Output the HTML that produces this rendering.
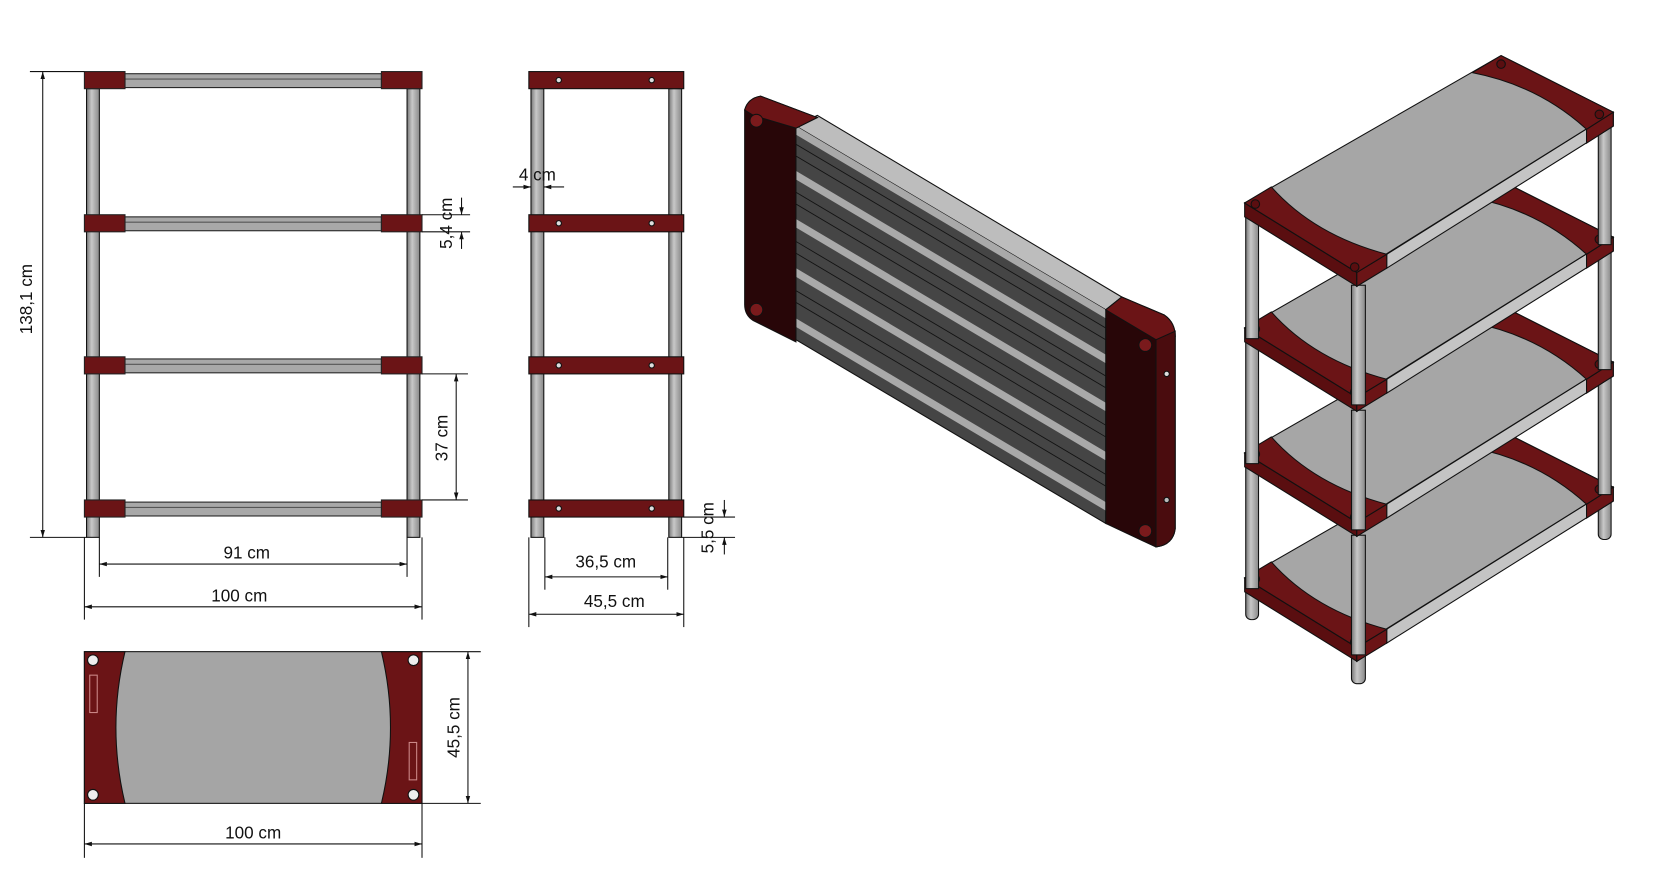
<!DOCTYPE html>
<html><head><meta charset="utf-8"><style>
html,body{margin:0;padding:0;background:#fff;}
svg{display:block;}
text{font-family:"Liberation Sans",sans-serif;font-size:16px;fill:#111;}
</style></head><body>
<svg width="1672" height="876" viewBox="0 0 1565 820" preserveAspectRatio="none" xmlns="http://www.w3.org/2000/svg">
<defs>
<marker id="ar" viewBox="0 0 10 10" refX="10" refY="5" markerWidth="7" markerHeight="7" orient="auto-start-reverse"><path d="M0,2 L10,5 L0,8z" fill="#111"/></marker>
<linearGradient id="post" x1="0" x2="1"><stop offset="0" stop-color="#777"/><stop offset=".4" stop-color="#c8c8c8"/><stop offset="1" stop-color="#888"/></linearGradient>
</defs>
<g stroke="#111" stroke-width="1" fill="none">
<rect x="81" y="83" width="12" height="420" fill="url(#post)"/>
<rect x="381" y="83" width="12" height="420" fill="url(#post)"/>
</g>
<g stroke="#222" stroke-width="1">
<g id="bar">
<rect x="117" y="69" width="240" height="13" fill="#a8a8a8"/>
<line x1="117" y1="74" x2="357" y2="74" stroke="#555"/>
<rect x="79" y="67" width="38" height="16" fill="#6b1416"/>
<rect x="357" y="67" width="38" height="16" fill="#6b1416"/>
</g>
<use href="#bar" y="134"/><use href="#bar" y="267"/><use href="#bar" y="401"/>
</g>
<g stroke="#111" stroke-width="1" fill="none">
<line x1="28" y1="67" x2="79" y2="67"/><line x1="28" y1="503" x2="81" y2="503"/>
<line x1="40" y1="67" x2="40" y2="503" marker-start="url(#ar)" marker-end="url(#ar)"/>
<line x1="93" y1="503" x2="93" y2="540"/><line x1="381" y1="503" x2="381" y2="540"/>
<line x1="93" y1="528" x2="381" y2="528" marker-start="url(#ar)" marker-end="url(#ar)"/>
<line x1="79" y1="503" x2="79" y2="580"/><line x1="395" y1="503" x2="395" y2="580"/>
<line x1="79" y1="568" x2="395" y2="568" marker-start="url(#ar)" marker-end="url(#ar)"/>
<line x1="395" y1="201" x2="440" y2="201"/><line x1="395" y1="217" x2="440" y2="217"/>
<line x1="432" y1="185" x2="432" y2="201" marker-end="url(#ar)"/><line x1="432" y1="233" x2="432" y2="217" marker-end="url(#ar)"/>
<line x1="395" y1="350" x2="438" y2="350"/><line x1="395" y1="468" x2="438" y2="468"/>
<line x1="427" y1="350" x2="427" y2="468" marker-start="url(#ar)" marker-end="url(#ar)"/>
</g>
<text x="30" y="280" text-anchor="middle" transform="rotate(-90 30 280)">138,1 cm</text>
<text x="231" y="523" text-anchor="middle">91 cm</text>
<text x="224" y="563" text-anchor="middle">100 cm</text>
<text x="423" y="209" text-anchor="middle" transform="rotate(-90 423 209)">5,4 cm</text>
<text x="419" y="410" text-anchor="middle" transform="rotate(-90 419 410)">37 cm</text>

<g stroke="#111" stroke-width="1">
<rect x="497" y="83" width="12" height="420" fill="url(#post)"/>
<rect x="626" y="83" width="12" height="420" fill="url(#post)"/>
<g id="sbar">
<rect x="495" y="67" width="145" height="16" fill="#6b1416"/>
<circle cx="523" cy="75" r="2.5" fill="#ddd"/><circle cx="610" cy="75" r="2.5" fill="#ddd"/>
</g>
<use href="#sbar" y="134"/><use href="#sbar" y="267"/><use href="#sbar" y="401"/>
</g>
<g stroke="#111" stroke-width="1" fill="none">
<line x1="480" y1="175" x2="497" y2="175" marker-end="url(#ar)"/><line x1="528" y1="175" x2="509" y2="175" marker-end="url(#ar)"/>
<line x1="510" y1="503" x2="510" y2="552"/><line x1="625" y1="503" x2="625" y2="552"/>
<line x1="510" y1="540" x2="625" y2="540" marker-start="url(#ar)" marker-end="url(#ar)"/>
<line x1="495" y1="503" x2="495" y2="587"/><line x1="640" y1="503" x2="640" y2="587"/>
<line x1="495" y1="575" x2="640" y2="575" marker-start="url(#ar)" marker-end="url(#ar)"/>
<line x1="640" y1="484" x2="688" y2="484"/><line x1="638" y1="503" x2="688" y2="503"/>
<line x1="678" y1="468" x2="678" y2="484" marker-end="url(#ar)"/><line x1="678" y1="519" x2="678" y2="503" marker-end="url(#ar)"/>
</g>
<text x="503" y="169" text-anchor="middle">4 cm</text>
<text x="567" y="531" text-anchor="middle">36,5 cm</text>
<text x="575" y="568" text-anchor="middle">45,5 cm</text>
<text x="668" y="494" text-anchor="middle" transform="rotate(-90 668 494)">5,5 cm</text>

<g stroke="#111" stroke-width="1">
<rect x="79" y="610" width="316" height="142" fill="#a5a5a5"/>
<path d="M79,610 H117 Q100,681 117,752 H79z" fill="#6b1416"/>
<path d="M395,610 H357 Q374,681 357,752 H395z" fill="#6b1416"/>
<circle cx="87" cy="618" r="5" fill="#eee"/><circle cx="87" cy="744" r="5" fill="#eee"/>
<circle cx="387" cy="618" r="5" fill="#eee"/><circle cx="387" cy="744" r="5" fill="#eee"/>
<rect x="84" y="632" width="7" height="35" fill="none" stroke="#c88"/>
<rect x="383" y="695" width="7" height="35" fill="none" stroke="#c88"/>
</g>
<g stroke="#111" stroke-width="1" fill="none">
<line x1="395" y1="610" x2="450" y2="610"/><line x1="395" y1="752" x2="450" y2="752"/>
<line x1="438" y1="610" x2="438" y2="752" marker-start="url(#ar)" marker-end="url(#ar)"/>
<line x1="79" y1="752" x2="79" y2="803"/><line x1="395" y1="752" x2="395" y2="803"/>
<line x1="79" y1="790" x2="395" y2="790" marker-start="url(#ar)" marker-end="url(#ar)"/>
</g>
<text x="430" y="681" text-anchor="middle" transform="rotate(-90 430 681)">45,5 cm</text>
<text x="237" y="785" text-anchor="middle">100 cm</text>

<g stroke="#111" stroke-width="1">
<polygon points="745,118 765,108 1050,278 1035,290 745,120" fill="#bdbdbd"/>
<polygon points="745,118 1035,290 1035,490 745,318" fill="#454545"/>
<g stroke="none" fill="#a9a9a9">
<polygon points="745,118 1035,290 1035,298 745,126"/>
<polygon points="745,160 1035,332 1035,340 745,168"/>
<polygon points="745,205 1035,377 1035,385 745,213"/>
<polygon points="745,251 1035,423 1035,431 745,259"/>
<polygon points="745,298 1035,470 1035,478 745,306"/>
</g>
<g stroke="#111" stroke-width=".8">
<line x1="745" y1="135" x2="1035" y2="307"/><line x1="745" y1="146" x2="1035" y2="318"/>
<line x1="745" y1="180" x2="1035" y2="352"/><line x1="745" y1="191" x2="1035" y2="363"/>
<line x1="745" y1="226" x2="1035" y2="398"/><line x1="745" y1="237" x2="1035" y2="409"/>
<line x1="745" y1="272" x2="1035" y2="444"/><line x1="745" y1="283" x2="1035" y2="455"/>
</g>
<path d="M697,103 Q700,92 712,90 L765,110 L745,120 L745,320 L705,300 Q697,295 697,285z" fill="#280608"/>
<path d="M697,103 Q700,92 712,90 L765,110 L745,120 L705,108z" fill="#6b1416"/>
<circle cx="708" cy="113" r="6" fill="#7a1a1c"/><circle cx="708" cy="290" r="6" fill="#7a1a1c"/>
<path d="M1035,290 L1050,278 L1090,295 Q1100,302 1100,315 L1100,495 Q1098,510 1082,512 L1035,490z" fill="#280608"/>
<path d="M1035,290 L1050,278 L1090,295 Q1100,302 1100,315 L1082,318z" fill="#6b1416"/>
<path d="M1082,318 L1100,310 L1100,495 Q1098,510 1082,512z" fill="#4a0c0e"/>
<circle cx="1072" cy="323" r="6" fill="#7a1a1c"/><circle cx="1072" cy="497" r="6" fill="#7a1a1c"/>
<circle cx="1092" cy="350" r="2.5" fill="#ddd"/><circle cx="1092" cy="468" r="2.5" fill="#bbb"/>
</g>

<!-- ISO SHELF -->
<defs>
<g id="shelf">
<polygon points="1165,190 1270,255 1270,268 1165,203" fill="#5a0e10"/>
<polygon points="1270,255 1510,105 1510,118 1270,268" fill="#b0b0b0"/>
<polygon points="1298,238 1510,105 1510,118 1298,251" fill="#c4c4c4"/>
<polygon points="1270,255 1298,238 1298,251 1270,268" fill="#6b1416"/>
<polygon points="1485,121 1510,105 1510,118 1485,134" fill="#6b1416"/>
<polygon points="1165,190 1405,52 1510,105 1270,255" fill="#a6a6a6"/>
<path d="M1165,190 L1190,175 Q1230,220 1298,238 L1270,255z" fill="#6b1416"/>
<path d="M1510,105 L1405,52 L1378,68 Q1440,80 1485,121z" fill="#6b1416"/>
<circle cx="1175" cy="191" r="4" fill="#5a0e10"/><circle cx="1268" cy="250" r="4" fill="#5a0e10"/>
<circle cx="1405" cy="60" r="4" fill="#5a0e10"/><circle cx="1497" cy="107" r="4" fill="#5a0e10"/>
</g>
<g id="seg">
<rect x="1166" y="85" width="12" height="115" fill="url(#post)"/>
<rect x="1265" y="150" width="13" height="112" fill="url(#post)"/>
<rect x="1496" y="0" width="12" height="112" fill="url(#post)"/>
</g>
</defs>
<g stroke="#111" stroke-width="1">
<rect x="1166" y="545" width="12" height="35" rx="5" fill="url(#post)"/>
<rect x="1265" y="605" width="13" height="35" rx="5" fill="url(#post)"/>
<rect x="1496" y="465" width="12" height="40" rx="5" fill="url(#post)"/>
<use href="#shelf" y="351"/>
<use href="#seg" y="351"/>
<use href="#shelf" y="234"/>
<use href="#seg" y="234"/>
<use href="#shelf" y="117"/>
<use href="#seg" y="117"/>
<use href="#shelf"/>
</g>
</svg>
</body></html>
